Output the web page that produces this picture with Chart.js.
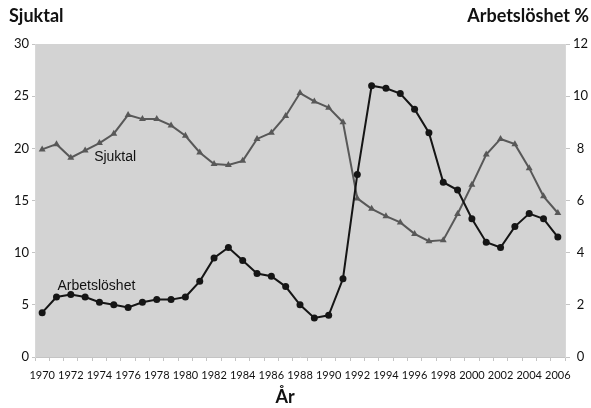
<!DOCTYPE html>
<html>
<head>
<meta charset="utf-8">
<script src="https://cdn.jsdelivr.net/npm/chart.js@4"></script>
<style>
  html, body { margin: 0; padding: 0; background: #fff; }
  #wrap { width: 591px; height: 408px; }
</style>
</head>
<body>
<div id="wrap"><canvas id="chart"></canvas></div>
<script>
// chart data
const years = [];
for (let y = 1970; y <= 2006; y++) years.push(String(y));

const sjuktal = [19.9, 20.4, 19.1, 19.8, 20.5, 21.4, 23.2, 22.8, 22.8, 22.2,
                 21.2, 19.6, 18.5, 18.4, 18.8, 20.9, 21.5, 23.1, 25.3, 24.5,
                 23.9, 22.5, 15.2, 14.2, 13.5, 12.9, 11.8, 11.1, 11.2, 13.7,
                 16.5, 19.4, 20.9, 20.4, 18.1, 15.4, 13.8];

const arbetsloshet = [1.7, 2.3, 2.4, 2.3, 2.1, 2.0, 1.9, 2.1, 2.2, 2.2,
                      2.3, 2.9, 3.8, 4.2, 3.7, 3.2, 3.1, 2.7, 2.0, 1.5,
                      1.6, 3.0, 7.0, 10.4, 10.3, 10.1, 9.5, 8.6, 6.7, 6.4,
                      5.3, 4.4, 4.2, 5.0, 5.5, 5.3, 4.6];

const leftTicks = [0, 5, 10, 15, 20, 25, 30];
const rightTicks = [0, 2, 4, 6, 8, 10, 12];

const tickFont = { family: "Lato", size: 13 };

// gray plot area behind the lines
const plotBg = {
    id: "plotBg",
    beforeDraw(chart) {
        const { ctx, chartArea: a } = chart;
        ctx.save();
        ctx.fillStyle = "#d3d3d3";
        ctx.fillRect(a.left, a.top, a.right - a.left, a.bottom - a.top);
        ctx.restore();
    }
};

// axis titles and the in-plot series names
const texts = {
    id: "texts",
    afterDraw(chart) {
        const ctx = chart.ctx;
        const x = chart.scales.x, yl = chart.scales.y;
        ctx.save();
        ctx.fillStyle = "#111";
        ctx.textBaseline = "middle";
        ctx.font = "bold 18px Lato";
        ctx.textAlign = "left";
        ctx.fillText("Sjuktal", 9, 16);
        ctx.textAlign = "right";
        ctx.fillText("Arbetslöshet %", 589, 16);
        ctx.textAlign = "center";
        ctx.fillText("År", 285, 397);

        ctx.font = "14px 'Liberation Sans'";
        ctx.textAlign = "left";
        ctx.fillText("Sjuktal", x.getPixelForValue(3) + 9, yl.getPixelForValue(19.2));
        ctx.fillText("Arbetslöshet", x.getPixelForValue(1) + 1, yl.getPixelForValue(6.8));
        ctx.restore();
    }
};

new Chart(document.getElementById("chart"), {
    type: "line",
    data: {
        labels: years,
        datasets: [
            {
                label: "Arbetslöshet",
                data: arbetsloshet,
                yAxisID: "y2",
                borderColor: "#151515",
                backgroundColor: "#151515",
                borderWidth: 2,
                pointStyle: "circle",
                pointRadius: 3.5,
                pointBorderWidth: 0,
                tension: 0,
                order: 0
            },
            {
                label: "Sjuktal",
                data: sjuktal,
                yAxisID: "y",
                borderColor: "#585858",
                backgroundColor: "#585858",
                borderWidth: 2,
                pointStyle: "triangle",
                pointRadius: 4,
                pointBorderWidth: 0,
                tension: 0,
                order: 1
            }
        ]
    },
    options: {
        responsive: true,
        maintainAspectRatio: false,
        animation: false,
        layout: { padding: { top: 44, left: 0, right: 0, bottom: 0 } },
        plugins: {
            legend: { display: false },
            tooltip: { enabled: false }
        },
        scales: {
            x: {
                offset: true,
                grid: {
                    offset: true,
                    drawOnChartArea: false,
                    drawTicks: true,
                    tickLength: 4,
                    color: "#c4c4c4"
                },
                border: { color: "#c4c4c4" },
                ticks: {
                    autoSkip: false,
                    maxRotation: 0,
                    padding: 8,
                    color: "#111",
                    font: { family: "Lato", size: 11 },
                    callback: (v, i) => (i % 2 === 0 ? years[i] : "")
                },
                afterFit(s) { s.height = 51; }
            },
            y: {
                position: "left",
                min: 0,
                max: 30,
                afterBuildTicks(s) { s.ticks = leftTicks.map(v => ({ value: v })); },
                grid: {
                    drawOnChartArea: false,
                    tickLength: 3,
                    color: "#c4c4c4"
                },
                border: { color: "#d8d8d8" },
                ticks: { padding: 3, color: "#111", font: tickFont },
                afterFit(s) { s.width = 35; }
            },
            y2: {
                position: "right",
                min: 0,
                max: 12,
                afterBuildTicks(s) { s.ticks = rightTicks.map(v => ({ value: v })); },
                grid: {
                    drawOnChartArea: false,
                    tickLength: 5,
                    color: "#c4c4c4"
                },
                border: { color: "#d8d8d8" },
                ticks: { crossAlign: "center", color: "#111", font: tickFont },
                afterFit(s) { s.width = 26; }
            }
        }
    },
    plugins: [plotBg, texts]
});
</script>
</body>
</html>
